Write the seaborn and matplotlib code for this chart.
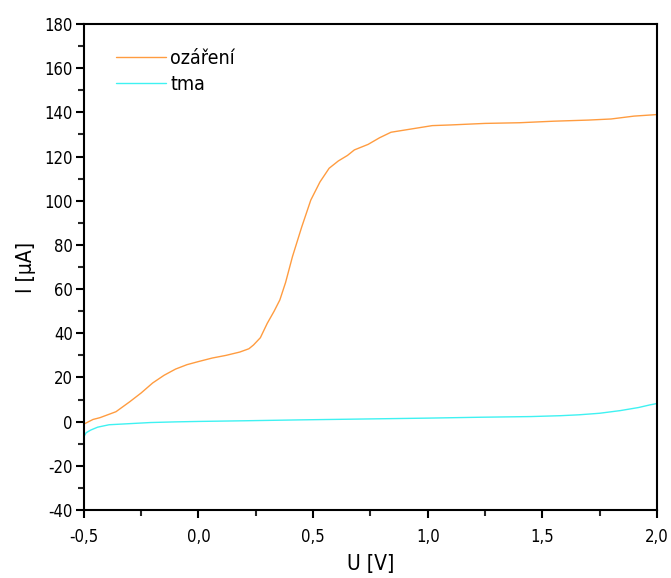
import matplotlib
matplotlib.use("Agg")
import matplotlib.pyplot as plt
from matplotlib.ticker import MultipleLocator, FuncFormatter
import seaborn as sns
import pandas as pd
import numpy as np

# data (U in V, I in uA)
u_ozareni = [-0.5, -0.46, -0.43, -0.36, -0.30, -0.25, -0.20, -0.15, -0.10, -0.05, 0.0, 0.06, 0.12,
             0.18, 0.22, 0.24, 0.27, 0.30, 0.33, 0.355, 0.38, 0.41, 0.45, 0.49, 0.53, 0.57,
             0.61, 0.65, 0.68, 0.74, 0.79, 0.84, 0.90, 0.96, 1.02, 1.10, 1.25, 1.40, 1.55,
             1.70, 1.80, 1.90, 2.0]
i_ozareni = [-1.1, 1.0, 1.8, 4.5, 9.0, 13.0, 17.5, 21.0, 23.8, 25.8, 27.2, 28.8, 30.0,
             31.5, 33.0, 34.7, 38.0, 44.5, 50.0, 55.1, 63.0, 74.7, 88.0, 100.3, 108.5, 114.7,
             118.0, 120.5, 123.0, 125.5, 128.5, 131.0, 132.0, 133.0, 134.0, 134.3, 135.0, 135.3, 136.0,
             136.5, 137.0, 138.3, 139.0]

u_tma = [-0.5, -0.49, -0.47, -0.44, -0.39, -0.30, -0.21, -0.10, 0.0, 0.20, 0.44, 0.79,
         1.0, 1.23, 1.45, 1.58, 1.66, 1.75, 1.84, 1.92, 1.97, 2.0]
i_tma = [-6.8, -5.0, -3.8, -2.5, -1.4, -0.9, -0.4, -0.1, 0.1, 0.4, 0.8, 1.3,
         1.6, 2.0, 2.3, 2.7, 3.1, 3.8, 5.0, 6.4, 7.6, 8.2]

series_names = ["ozáření", "tma"]
series_colors = ["#ff9c40", "#3ff2f2"]

x_ticks = [-0.5, 0.0, 0.5, 1.0, 1.5, 2.0]
y_ticks = list(range(-40, 181, 20))

df = pd.concat([
    pd.DataFrame({"U": u_ozareni, "I": i_ozareni, "serie": series_names[0]}),
    pd.DataFrame({"U": u_tma, "I": i_tma, "serie": series_names[1]}),
], ignore_index=True)

sns.set_theme(style="ticks")
plt.rcParams["font.family"] = ["DejaVu Sans"]
plt.rcParams["font.stretch"] = "condensed"
plt.rcParams["axes.unicode_minus"] = False
plt.rcParams["text.color"] = "black"
plt.rcParams["axes.labelcolor"] = "black"

fig = plt.figure(figsize=(6.71, 5.78), dpi=100)
ax = fig.add_axes([0.125, 0.1176, 0.854, 0.8409])

sns.lineplot(data=df, x="U", y="I", hue="serie", palette=dict(zip(series_names, series_colors)),
             estimator=None, sort=False, linewidth=1.0, ax=ax)

ax.set_xlim(-0.5, 2.0)
ax.set_ylim(-40, 180)
ax.set_xticks(x_ticks)
ax.set_yticks(y_ticks)
ax.xaxis.set_minor_locator(MultipleLocator(0.25))
ax.yaxis.set_minor_locator(MultipleLocator(10))
ax.xaxis.set_major_formatter(FuncFormatter(lambda v, p: f"{v:.1f}".replace(".", ",")))
ax.tick_params(which="major", direction="out", length=6, width=1.5, labelsize=12, colors="black")
ax.tick_params(which="minor", direction="out", length=4, width=1.5)
ax.tick_params(top=False, right=False, which="both")
ax.tick_params(axis="x", pad=7)
ax.tick_params(axis="y", pad=2)
for s in ax.spines.values():
    s.set_linewidth(1.5)
    s.set_color("black")

ax.set_xlabel("U [V]", fontsize=15, labelpad=6)
ax.set_ylabel("I [μA]", fontsize=15, labelpad=6)

leg = ax.legend(loc="upper left", bbox_to_anchor=(0.025, 0.985), frameon=False, fontsize=14,
                handlelength=2.6, handletextpad=0.2, labelspacing=0.35)
for line in leg.get_lines():
    line.set_linewidth(1.0)

fig.savefig("out.png", dpi=100)
